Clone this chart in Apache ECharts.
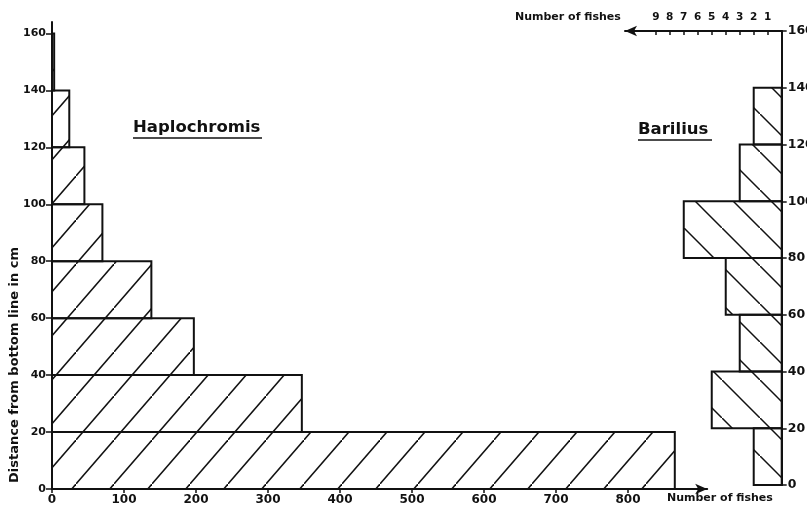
<!DOCTYPE html>
<html><head><meta charset="utf-8">
<script src="https://cdn.jsdelivr.net/npm/echarts@6/dist/echarts.min.js"></script>
<style>html,body{margin:0;padding:0;background:#fff;}#c{width:807px;height:508px;}</style>
</head><body><div id="c"></div>
<script>
// Bins: distance from bottom line (cm)
const binStarts = [0, 20, 40, 60, 80, 100, 120, 140];
const binWidth = 20;
// Number of fishes per bin
const haplochromis = [865, 347, 197, 138, 70, 45, 24, 3];
const barilius = [2, 5, 3, 4, 7, 3, 2, 0];
// Tick labels
const xTicksLeft = [0, 100, 200, 300, 400, 500, 600, 700, 800];
const xTicksRight = [1, 2, 3, 4, 5, 6, 7, 8, 9];
const yTicks = [0, 20, 40, 60, 80, 100, 120, 140, 160];

const INK = '#111';
const FONT = '"DejaVu Sans", sans-serif';

function hatch(w, h, dir) {
  const c = document.createElement('canvas');
  c.width = w; c.height = h;
  const g = c.getContext('2d');
  g.strokeStyle = INK; g.lineWidth = 1.5;
  const segs = dir === '/' ? [[0, h, w, 0]] : [[0, 0, w, h]];
  const shifts = dir === '/' ? [[0, 0], [w, -h], [-w, h]] : [[0, 0], [w, h], [-w, -h]];
  for (const s of segs) for (const [dx, dy] of shifts) {
    g.beginPath(); g.moveTo(s[0] + dx, s[1] + dy); g.lineTo(s[2] + dx, s[3] + dy); g.stroke();
  }
  return { image: c, repeat: 'repeat' };
}
const patLeft = hatch(38, 44, '/');
const patRight = hatch(38, 38, '\\');

function rows(vals) {
  return binStarts.map((s, i) => [s, s + binWidth, vals[i]]).filter(r => r[2] > 0);
}
function renderer(pattern) {
  return function (params, api) {
    const y0 = api.value(0), y1 = api.value(1), v = api.value(2);
    const a = api.coord([0, y0]), b = api.coord([v, y1]);
    return {
      type: 'rect',
      shape: { x: Math.min(a[0], b[0]), y: Math.min(a[1], b[1]), width: Math.abs(b[0] - a[0]), height: Math.abs(b[1] - a[1]) },
      style: { fill: pattern, stroke: INK, lineWidth: 2 }
    };
  };
}

const chart = echarts.init(document.getElementById('c'), null, { renderer: 'canvas' });
chart.setOption({
  backgroundColor: '#fff',
  animation: false,
  grid: [
    { left: 52, top: 22.1, width: 655.2, height: 466.9, outerBoundsMode: 'none', containLabel: false },
    { left: 625, right: 25.3, top: 31, bottom: 23, outerBoundsMode: 'none', containLabel: false }
  ],
  xAxis: [
    {
      gridIndex: 0, type: 'value', min: 0, max: 910,
      axisLine: { show: true, onZero: false, symbol: ['none', 'arrow'], symbolSize: [8, 12], lineStyle: { color: INK, width: 2 } },
      axisTick: { show: true, inside: false, length: 4, customValues: xTicksLeft, lineStyle: { color: INK, width: 1.5 } },
      axisLabel: { customValues: xTicksLeft, margin: 5, color: INK, fontFamily: FONT, fontWeight: 'bold', fontSize: 12 },
      splitLine: { show: false }
    },
    {
      gridIndex: 1, type: 'value', min: 0, max: 11.2, inverse: true, position: 'top',
      axisLine: { show: true, onZero: false, symbol: ['arrow', 'none'], symbolSize: [8, 12], lineStyle: { color: INK, width: 2 } },
      axisTick: { show: true, inside: true, length: 4, customValues: xTicksRight, lineStyle: { color: INK, width: 1.5 } },
      axisLabel: { customValues: xTicksRight, margin: 8, color: INK, fontFamily: FONT, fontWeight: 'bold', fontSize: 10.5 },
      splitLine: { show: false }
    }
  ],
  yAxis: [
    {
      gridIndex: 0, type: 'value', min: 0, max: 164,
      axisLine: { show: true, onZero: false, lineStyle: { color: INK, width: 2 } },
      axisTick: { show: true, inside: false, length: 6, customValues: yTicks, lineStyle: { color: INK, width: 1.5 } },
      axisLabel: { customValues: yTicks, margin: 6, color: INK, fontFamily: FONT, fontWeight: 'bold', fontSize: 11 },
      splitLine: { show: false }
    },
    {
      gridIndex: 1, type: 'value', min: 0, max: 160, position: 'right',
      axisLine: { show: true, onZero: false, lineStyle: { color: INK, width: 2 } },
      axisTick: { show: true, inside: false, length: 5, customValues: yTicks, lineStyle: { color: INK, width: 1.5 } },
      axisLabel: { customValues: yTicks, margin: 6, color: INK, fontFamily: FONT, fontWeight: 'bold', fontSize: 12.5 },
      splitLine: { show: false }
    }
  ],
  series: [
    { name: 'Haplochromis', type: 'custom', xAxisIndex: 0, yAxisIndex: 0, renderItem: renderer(patLeft), data: rows(haplochromis), encode: { x: 2, y: [0, 1] } },
    { name: 'Barilius', type: 'custom', xAxisIndex: 1, yAxisIndex: 1, renderItem: renderer(patRight), data: rows(barilius), encode: { x: 2, y: [0, 1] } }
  ],
  graphic: [
    { type: 'text', x: 133, y: 128, style: { text: 'Haplochromis', font: 'bold 16.5px ' + FONT, fill: INK, verticalAlign: 'middle' } },
    { type: 'line', shape: { x1: 133, y1: 138, x2: 262, y2: 138 }, style: { stroke: INK, lineWidth: 1.5 } },
    { type: 'text', x: 638, y: 130, style: { text: 'Barilius', font: 'bold 16.5px ' + FONT, fill: INK, verticalAlign: 'middle' } },
    { type: 'line', shape: { x1: 638, y1: 140, x2: 712, y2: 140 }, style: { stroke: INK, lineWidth: 1.5 } },
    { type: 'text', x: 515, y: 17, style: { text: 'Number of fishes', font: 'bold 11px ' + FONT, fill: INK, verticalAlign: 'middle' } },
    { type: 'text', x: 667, y: 498, style: { text: 'Number of fishes', font: 'bold 11px ' + FONT, fill: INK, verticalAlign: 'middle' } },
    { type: 'text', x: 15, y: 365, rotation: Math.PI / 2, style: { text: 'Distance from bottom line in cm', font: 'bold 13px ' + FONT, fill: INK, align: 'center', verticalAlign: 'middle' } }
  ]
});
</script>
</body></html>
